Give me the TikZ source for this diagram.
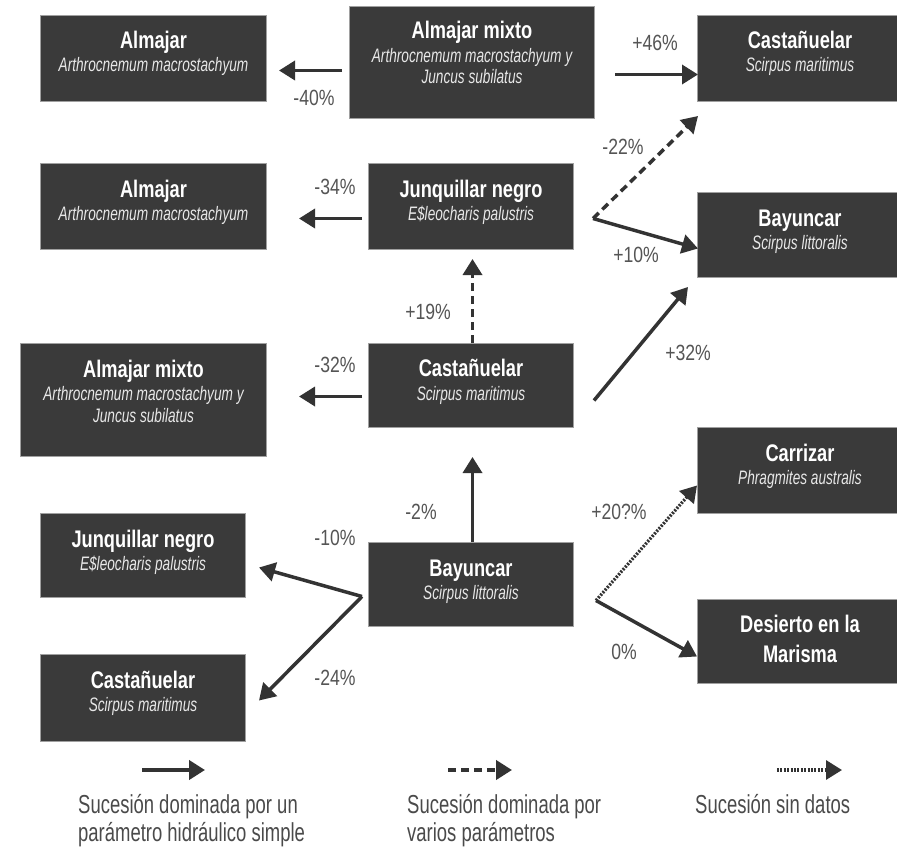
\documentclass[tikz,border=0pt]{standalone}
\usepackage{fontspec}
\setmainfont{Liberation Sans}
\newfontfamily\ttlfont[FakeStretch=0.76]{Liberation Sans}
\newfontfamily\subfont[FakeStretch=0.70]{Liberation Sans}
\newfontfamily\pctfont[FakeStretch=0.80]{Liberation Sans}
\newfontfamily\legfont[FakeStretch=0.71]{Liberation Sans}
\usetikzlibrary{arrows.meta}
\definecolor{boxfill}{HTML}{3A3A3A}
\definecolor{boxline}{HTML}{A0A0A0}
\definecolor{subtext}{HTML}{E8E8E8}
\definecolor{arrowc}{HTML}{333333}
\definecolor{pcttext}{HTML}{555555}
\definecolor{legtext}{HTML}{4A4A4A}
\tikzset{
  box/.style={draw=boxline, line width=1pt, fill=boxfill, inner sep=0pt, anchor=north west},
  ttl/.style={anchor=base, inner sep=0pt, text=white, font=\ttlfont\bfseries\fontsize{24}{28}\selectfont},
  sub/.style={anchor=base, inner sep=0pt, text=subtext, font=\subfont\itshape\fontsize{19.5}{23}\selectfont},
  pct/.style={inner sep=0pt, text=pcttext, font=\pctfont\fontsize{22}{26}\selectfont},
  leg/.style={anchor=base west, inner sep=0pt, text=legtext, font=\legfont\fontsize{26}{30}\selectfont},
  conn/.style={draw=arrowc, line width=3.5pt, -{Triangle[length=16pt,width=19pt]}},
  dashconn/.style={conn, dash pattern=on 8pt off 5pt},
  dotconn/.style={conn, line width=3.2pt, dash pattern=on 2pt off 1.4pt},
}
\begin{document}
\begin{tikzpicture}[x=1pt,y=1pt]
\useasboundingbox[fill=white] (0,0) rectangle (897,-848);

% ---- boxes ----
\node[box, minimum width=226pt, minimum height=86pt] (a1) at (40,-15) {};
\path (a1.north) ++(0,-34) node[ttl] (a1t) {Almajar} ++(0,-23) node[sub] (a1s) {Arthrocnemum macrostachyum};

\node[box, minimum width=245pt, minimum height=112pt] (am1) at (349,-6) {};
\path (am1.north) ++(0,-33) node[ttl] (am1t) {Almajar mixto} ++(0,-24) node[sub] (am1s) {Arthrocnemum macrostachyum y} ++(0,-21) node[sub] (am1u) {Juncus subilatus};

\node[box, minimum width=205pt, minimum height=86pt] (c1) at (697,-15) {};
\path (c1.north) ++(0,-34) node[ttl] (c1t) {Castañuelar} ++(0,-23) node[sub] (c1s) {Scirpus maritimus};

\node[box, minimum width=226pt, minimum height=86pt] (a2) at (40,-163) {};
\path (a2.north) ++(0,-34) node[ttl] (a2t) {Almajar} ++(0,-23) node[sub] (a2s) {Arthrocnemum macrostachyum};

\node[box, minimum width=205pt, minimum height=86pt] (jn1) at (368,-163) {};
\path (jn1.north) ++(0,-34) node[ttl] (jn1t) {Junquillar negro} ++(0,-23) node[sub] (jn1s) {E\$leocharis palustris};

\node[box, minimum width=205pt, minimum height=85pt] (b1) at (697,-192) {};
\path (b1.north) ++(0,-34) node[ttl] (b1t) {Bayuncar} ++(0,-23) node[sub] (b1s) {Scirpus littoralis};

\node[box, minimum width=246pt, minimum height=113pt] (am2) at (20,-343) {};
\path (am2.north) ++(0,-34) node[ttl] (am2t) {Almajar mixto} ++(0,-23) node[sub] (am2s) {Arthrocnemum macrostachyum y} ++(0,-22) node[sub] (am2u) {Juncus subilatus};

\node[box, minimum width=205pt, minimum height=84pt] (c2) at (368,-343) {};
\path (c2.north) ++(0,-33) node[ttl] (c2t) {Castañuelar} ++(0,-24) node[sub] (c2s) {Scirpus maritimus};

\node[box, minimum width=205pt, minimum height=86pt] (cr) at (697,-427) {};
\path (cr.north) ++(0,-34) node[ttl] (crt) {Carrizar} ++(0,-23) node[sub] (crs) {Phragmites australis};

\node[box, minimum width=205pt, minimum height=84pt] (jn2) at (40,-513) {};
\path (jn2.north) ++(0,-34) node[ttl] (jn2t) {Junquillar negro} ++(0,-23) node[sub] (jn2s) {E\$leocharis palustris};

\node[box, minimum width=205pt, minimum height=84pt] (b2) at (368,-542) {};
\path (b2.north) ++(0,-34) node[ttl] (b2t) {Bayuncar} ++(0,-23) node[sub] (b2s) {Scirpus littoralis};

\node[box, minimum width=205pt, minimum height=84pt] (d) at (697,-599) {};
\path (d.north) ++(0,-33) node[ttl] (dt) {Desierto en la} ++(0,-30) node[ttl] (du) {Marisma};

\node[box, minimum width=205pt, minimum height=87pt] (c3) at (40,-654) {};
\path (c3.north) ++(0,-34) node[ttl] (c3t) {Castañuelar} ++(0,-23) node[sub] (c3s) {Scirpus maritimus};

% ---- branch points ----
\coordinate (jr) at ([shift={(19,-12)}]jn1.east);
\coordinate (bl) at ([shift={(-6,-12)}]b2.west);
\coordinate (br) at ([shift={(22,-16)}]b2.east);

% ---- connectors ----
\draw[conn] ([shift={(-7,-8)}]am1.west) -- ([shift={(12,-12)}]a1.east);
\draw[conn] ([shift={(20,-12)}]am1.east) -- ([shift={(1,-16)}]c1.west);
\draw[dashconn] (jr) -- ([shift={(1,-14)}]c1.south west);
\draw[conn] (jr) -- ([shift={(1,-13.5)}]b1.west);
\draw[conn] ([shift={(-6,-12)}]jn1.west) -- ([shift={(32,-12)}]a2.east);
\draw[dashconn] ([shift={(1.5,0)}]c2.north) -- ([shift={(1.5,-9)}]jn1.south);
\draw[conn] ([shift={(-6,-11)}]c2.west) -- ([shift={(32,3.5)}]am2.east);
\draw[conn] ([shift={(20,-15)}]c2.east) -- ([shift={(-9,-9)}]b1.south west);
\draw[conn] ([shift={(1.5,0)}]b2.north) -- ([shift={(1.5,-29)}]c2.south);
\draw[conn] (bl) -- ([shift={(13,-12)}]jn2.east);
\draw[conn] (bl) -- ([shift={(13,-2.5)}]c3.east);
\draw[dotconn] (br) -- ([shift={(0,-15)}]cr.west);
\draw[conn] (br) -- ([shift={(0,-15)}]d.west);

% ---- percentages ----
\node[pct] (p40) at (314,-97.5) {-40\%};
\node[pct] (p46) at (655,-43) {+46\%};
\node[pct] (p22) at (623,-147) {-22\%};
\node[pct] (p10a) at (636,-255) {+10\%};
\node[pct] (p34) at (335,-187) {-34\%};
\node[pct] (p19) at (428,-312) {+19\%};
\node[pct] (p32a) at (335,-365) {-32\%};
\node[pct] (p32b) at (688,-353) {+32\%};
\node[pct] (p2) at (421,-512) {-2\%};
\node[pct] (p10b) at (335,-538) {-10\%};
\node[pct] (p24) at (335,-678) {-24\%};
\node[pct] (p20) at (619,-512) {+20?\%};
\node[pct] (p0) at (624,-652) {0\%};

% ---- legend ----
\coordinate (l1a) at (142,-770); \coordinate (l1b) at (205,-770);
\coordinate (l2a) at (448,-770); \coordinate (l2b) at (512,-770);
\coordinate (l3a) at (777,-770); \coordinate (l3b) at (842,-770);
\draw[conn, line width=4pt] (l1a) -- (l1b);
\draw[dashconn, line width=4pt] (l2a) -- (l2b);
\draw[dotconn] (l3a) -- (l3b);
\node[leg] (g1a) at (78,-813) {Sucesión dominada por un};
\node[leg] (g1b) at (78,-841) {parámetro hidráulico simple};
\node[leg] (g2a) at (407,-813) {Sucesión dominada por};
\node[leg] (g2b) at (407,-841) {varios parámetros};
\node[leg] (g3a) at (695,-813) {Sucesión sin datos};
\end{tikzpicture}
\end{document}
